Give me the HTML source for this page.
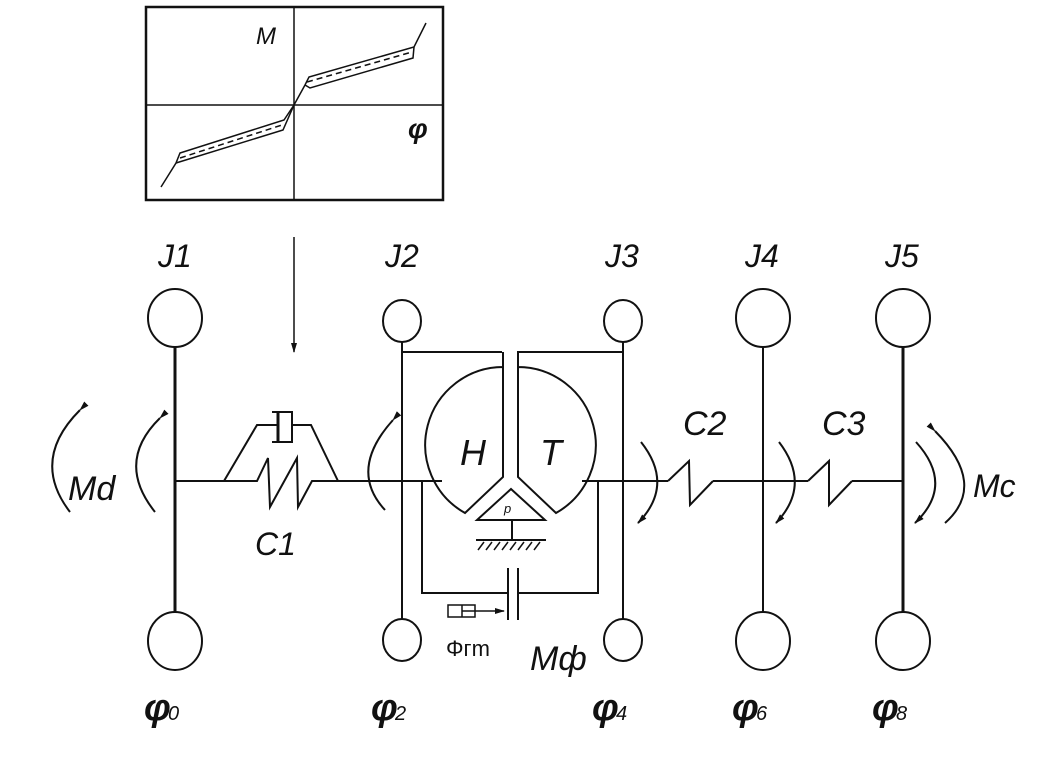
<!DOCTYPE html>
<html><head><meta charset="utf-8"><style>
html,body{margin:0;padding:0;background:#fff;}
svg{display:block}
text{font-family:"Liberation Sans","DejaVu Sans",sans-serif;font-style:italic;fill:#111}
</style></head><body>
<svg width="1054" height="782" viewBox="0 0 1054 782" xmlns="http://www.w3.org/2000/svg">
<defs>
<marker id="ah" markerWidth="10" markerHeight="8" refX="9" refY="4" orient="auto" markerUnits="userSpaceOnUse">
<path d="M0,1 L10,4 L0,7 Z" fill="#111"/></marker>
</defs>
<g stroke="#111" fill="none" stroke-width="2">
<rect x="146" y="7" width="297" height="193" stroke-width="2.5"/>
<line x1="294" y1="7" x2="294" y2="200" stroke-width="1.5"/>
<line x1="146" y1="105" x2="443" y2="105" stroke-width="1.5"/>
<g stroke-width="1.5">
<path d="M161,187 L176,163 L180,153 L284,120 L294,105 L305,85 L309,77 L414,47 L426,23"/>
<path d="M176,163 L283,130 L294,105"/>
<path d="M305,85 L310,88 L413,58 L414,47"/>
<path d="M180,158 L282,125 M307,82 L412,52" stroke-dasharray="6,4"/>
</g>
<text x="256" y="44" font-size="24" stroke="none">M</text>
<text x="408" y="138" font-size="28" stroke="none" font-weight="bold">φ</text>
<line x1="294" y1="237" x2="294" y2="352" stroke-width="1.5" marker-end="url(#ah)"/>
<line x1="175" y1="346" x2="175" y2="613" stroke-width="3"/>
<ellipse cx="175" cy="318" rx="27" ry="29"/>
<ellipse cx="175" cy="641" rx="27" ry="29"/>
<line x1="402" y1="342" x2="402" y2="620"/>
<ellipse cx="402" cy="321" rx="19" ry="21"/>
<ellipse cx="402" cy="640" rx="19" ry="21"/>
<line x1="623" y1="342" x2="623" y2="620"/>
<ellipse cx="623" cy="321" rx="19" ry="21"/>
<ellipse cx="623" cy="640" rx="19" ry="21"/>
<line x1="763" y1="346" x2="763" y2="613"/>
<ellipse cx="763" cy="318" rx="27" ry="29"/>
<ellipse cx="763" cy="641" rx="27" ry="29"/>
<line x1="903" y1="346" x2="903" y2="613" stroke-width="3"/>
<ellipse cx="903" cy="318" rx="27" ry="29"/>
<ellipse cx="903" cy="641" rx="27" ry="29"/>
<line x1="175" y1="481" x2="222" y2="481"/>
<line x1="338" y1="481" x2="442" y2="481"/>
<line x1="582" y1="481" x2="668" y2="481"/>
<line x1="713" y1="481" x2="808" y2="481"/>
<line x1="852" y1="481" x2="903" y2="481"/>
<path d="M222,481 L257,481 L268,458 L270,507 L297,458 L298,507 L312,481 L338,481"/>
<path d="M224,481 L257,425 L277,425 M292,425 L311,425 L338,481"/>
<path d="M272,412 L292,412 L292,442 L272,442"/>
<line x1="278" y1="412" x2="278" y2="442" stroke-width="3"/>
<path d="M668,481 L689,461 L690,505 L713,481"/>
<path d="M808,481 L829,461 L829,505 L852,481"/>
<path d="M402,352 L502,352 M517,352 L623,352"/>
<path d="M503,352 L503,477 L465,513 A78,78 0 0 1 503,367"/>
<path d="M518,352 L518,477 L556,513 A78,78 0 0 0 518,367"/>
<path d="M511,489 L545,520 L477,520 Z"/>
<line x1="512" y1="520" x2="512" y2="540"/>
<line x1="476" y1="540" x2="546" y2="540"/>
<g stroke-width="1.5"><path d="M478,550 L484,542 M486,550 L492,542 M494,550 L500,542 M502,550 L508,542 M510,550 L516,542 M518,550 L524,542 M526,550 L532,542 M534,550 L540,542"/></g>
<path d="M422,481 L422,593 L508,593 M518,593 L598,593 L598,481"/>
<line x1="508" y1="568" x2="508" y2="620"/>
<line x1="518" y1="568" x2="518" y2="620"/>
<rect x="448" y="605" width="27" height="12" stroke-width="1.5"/>
<line x1="462" y1="605" x2="462" y2="617" stroke-width="1.5"/>
<line x1="462" y1="611" x2="504" y2="611" stroke-width="1.5" marker-end="url(#ah)"/>
<path d="M80,410 Q30,460 70,512" marker-start="url(#ah)"/>
<path d="M160,418 Q115,462 155,512" marker-start="url(#ah)"/>
<path d="M393,420 Q348,470 385,510" marker-start="url(#ah)"/>
<path d="M641,442 Q675,485 638,523" marker-end="url(#ah)"/>
<path d="M779,442 Q812,485 776,523" marker-end="url(#ah)"/>
<path d="M916,442 Q955,485 915,523" marker-end="url(#ah)"/>
<path d="M935,431 Q988,485 945,523" marker-start="url(#ah)"/>
</g>
<g stroke="none">
<text x="158" y="267" font-size="32">J1</text>
<text x="385" y="267" font-size="32">J2</text>
<text x="605" y="267" font-size="32">J3</text>
<text x="745" y="267" font-size="32">J4</text>
<text x="885" y="267" font-size="32">J5</text>
<text x="68" y="500" font-size="34">Md</text>
<text x="255" y="555" font-size="32">C1</text>
<text x="683" y="435" font-size="34">C2</text>
<text x="822" y="435" font-size="34">C3</text>
<text x="973" y="497" font-size="32">Mc</text>
<text x="460" y="465" font-size="36">H</text>
<text x="540" y="465" font-size="36">T</text>
<text x="504" y="513" font-size="13">p</text>
<text x="446" y="656" font-size="22" style="font-style:normal">Φгm</text>
<text x="530" y="670" font-size="34">Mф</text>
<text x="144" y="720" font-size="38" font-weight="bold">φ</text><text x="168" y="720" font-size="20">0</text>
<text x="371" y="720" font-size="38" font-weight="bold">φ</text><text x="395" y="720" font-size="20">2</text>
<text x="592" y="720" font-size="38" font-weight="bold">φ</text><text x="616" y="720" font-size="20">4</text>
<text x="732" y="720" font-size="38" font-weight="bold">φ</text><text x="756" y="720" font-size="20">6</text>
<text x="872" y="720" font-size="38" font-weight="bold">φ</text><text x="896" y="720" font-size="20">8</text>
</g>
</svg>
</body></html>
